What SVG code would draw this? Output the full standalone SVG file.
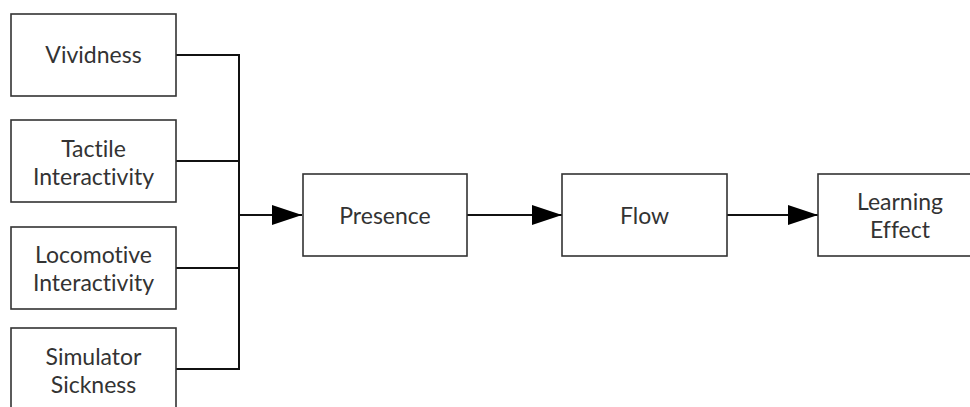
<svg xmlns="http://www.w3.org/2000/svg" width="970" height="407" viewBox="0 0 970 407">
<style>
.box{fill:#fff;stroke:#333;stroke-width:1.6}
.t{font-family:Lato,"Open Sans",sans-serif;font-size:23px;fill:#333;text-anchor:middle;font-variant-ligatures:none;font-feature-settings:"liga" 0}
.c{fill:none;stroke:#111;stroke-width:2}
</style>
<defs>
<marker id="ah" viewBox="0 0 30 20" refX="30" refY="10" markerWidth="30" markerHeight="20" markerUnits="userSpaceOnUse" orient="auto">
<path d="M0,0 L30,10 L0,20 Z" fill="#000"/>
</marker>
</defs>
<rect width="970" height="407" fill="#fff"/>
<g id="connectors">
<path class="c" d="M176,55 H239 V369 H176"/>
<path class="c" d="M176,161 H239"/>
<path class="c" d="M176,268 H239"/>
<path class="c" d="M239,215 H302" marker-end="url(#ah)"/>
<path class="c" d="M467,215 H562" marker-end="url(#ah)"/>
<path class="c" d="M727,215 H818" marker-end="url(#ah)"/>
</g>
<g id="vividness"><rect class="box" x="11" y="14" width="165" height="82"/><text class="t" x="93.5" y="63">Vividness</text></g>
<g id="tactile"><rect class="box" x="11" y="120" width="165" height="82"/><text class="t" x="93.5" y="157">Tactile</text><text class="t" x="93.5" y="185">Interactivity</text></g>
<g id="locomotive"><rect class="box" x="11" y="227" width="165" height="82"/><text class="t" x="93.5" y="263">Locomotive</text><text class="t" x="93.5" y="291">Interactivity</text></g>
<g id="simulator"><rect class="box" x="11" y="328" width="165" height="82"/><text class="t" x="93.5" y="365">Simulator</text><text class="t" x="93.5" y="393">Sickness</text></g>
<g id="presence"><rect class="box" x="303" y="174" width="164" height="82"/><text class="t" x="385" y="224">Presence</text></g>
<g id="flow"><rect class="box" x="562" y="174" width="165" height="82"/><text class="t" x="644.5" y="224">Flow</text></g>
<g id="learning"><rect class="box" x="818" y="174" width="165" height="82"/><text class="t" x="900" y="210">Learning</text><text class="t" x="900" y="238">Effect</text></g>
</svg>
